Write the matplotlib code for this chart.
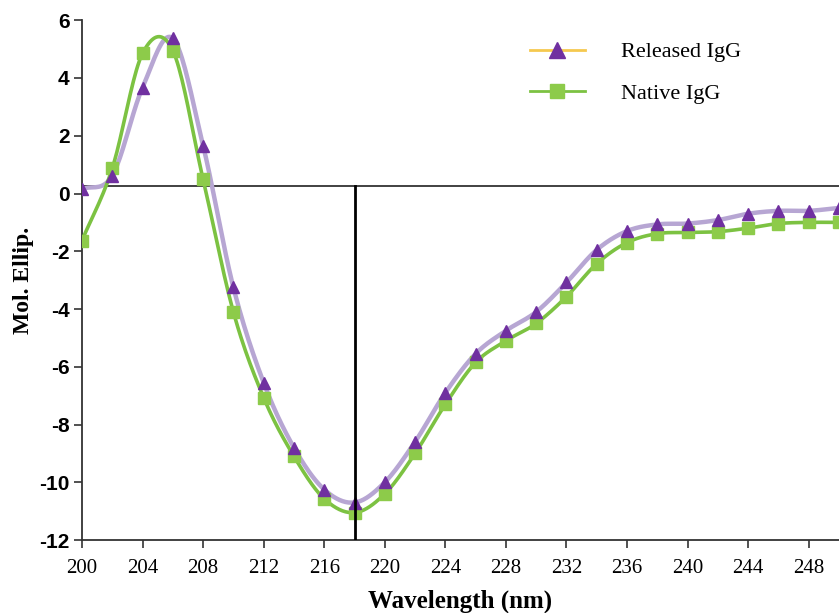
import numpy as np
import matplotlib.pyplot as plt

# CD spectra data
wavelength = [200, 202, 204, 206, 208, 210, 212, 214, 216, 218, 220, 222, 224,
              226, 228, 230, 232, 234, 236, 238, 240, 242, 244, 246, 248, 250]
released = [0.15, 0.62, 3.67, 5.37, 1.66, -3.25, -6.55, -8.8, -10.25, -10.7,
            -10.0, -8.6, -6.9, -5.55, -4.75, -4.1, -3.08, -1.95, -1.3, -1.07,
            -1.04, -0.92, -0.7, -0.6, -0.6, -0.5]
native = [-1.63, 0.87, 4.85, 4.95, 0.49, -4.1, -7.07, -9.1, -10.57, -11.05,
          -10.4, -9.0, -7.3, -5.85, -5.1, -4.5, -3.57, -2.43, -1.7, -1.39,
          -1.35, -1.32, -1.2, -1.04, -1.0, -1.0]
xticks = list(range(200, 249, 4))
yticks = list(range(-12, 7, 2))


def smooth(x, y, n=20):
    # Catmull-Rom spline like Excel's "smoothed line"
    x = np.asarray(x, float)
    y = np.asarray(y, float)
    px = np.concatenate([[2 * x[0] - x[1]], x, [2 * x[-1] - x[-2]]])
    py = np.concatenate([[2 * y[0] - y[1]], y, [2 * y[-1] - y[-2]]])
    xs, ys = [], []
    t = np.linspace(0, 1, n, endpoint=False)
    for i in range(1, len(px) - 2):
        for p, out in ((px, xs), (py, ys)):
            p0, p1, p2, p3 = p[i - 1], p[i], p[i + 1], p[i + 2]
            out.extend(0.5 * (2 * p1 + (-p0 + p2) * t
                              + (2 * p0 - 5 * p1 + 4 * p2 - p3) * t ** 2
                              + (-p0 + 3 * p1 - 3 * p2 + p3) * t ** 3))
    xs.append(x[-1])
    ys.append(y[-1])
    return np.array(xs), np.array(ys)


fig = plt.figure(figsize=(8.39, 6.13), dpi=100)
ax = fig.add_axes([0.0977, 0.119, 0.9023, 0.848])

sx, sy = smooth(wavelength, released)
ax.plot(sx, sy, color='#b7a6d3', lw=3.2, zorder=3)
ax.plot(wavelength, released, ls='none', marker='^', ms=9, color='#7030a0',
        zorder=5)
nx, ny = smooth(wavelength, native)
ax.plot(nx, ny, color='#7cc242', lw=2.6, zorder=4)
ax.plot(wavelength, native, ls='none', marker='s', ms=8.5, color='#8dcb4a',
        zorder=4)

# reference lines
ax.axhline(0.25, color='#333333', lw=1.3, zorder=2)
ax.plot([218, 218], [-12, 0.25], color='black', lw=2, zorder=6)

# legend handles
ax.plot([], [], color='#f5c94f', lw=2, marker='^', ms=11, mfc='#7030a0',
        mec='#7030a0', label='Released IgG')
ax.plot([], [], color='#7cc242', lw=2, marker='s', ms=10, mfc='#8dcb4a',
        mec='#8dcb4a', label='Native IgG')
h, l = ax.get_legend_handles_labels()
ax.legend(h[-2:], l[-2:], loc='upper left', bbox_to_anchor=(0.565, 0.997),
          frameon=False, prop={'family': 'Liberation Serif', 'size': 16},
          handlelength=2.5, labelspacing=0.95, handletextpad=1.6)

ax.set_xlim(200, 250)
ax.set_ylim(-12, 6)
ax.set_xticks(xticks)
ax.set_yticks(yticks)
ax.set_xticklabels([str(v) for v in xticks], family='Liberation Serif',
                   fontsize=15)
ax.set_yticklabels([str(v) for v in yticks], family='Liberation Sans',
                   fontweight='bold', fontsize=15)
ax.tick_params(direction='out', length=6, width=1.2, colors='#333333',
               labelcolor='black')
ax.tick_params(axis='x', pad=8)
ax.tick_params(axis='y', pad=3)
for s in ['top', 'right']:
    ax.spines[s].set_visible(False)
for s in ['left', 'bottom']:
    ax.spines[s].set_linewidth(1.3)
    ax.spines[s].set_color('#333333')

ax.set_xlabel('Wavelength (nm)', family='Liberation Serif', fontweight='bold',
              fontsize=18, labelpad=8)
ax.set_ylabel('Mol. Ellip.', family='Liberation Serif', fontweight='bold',
              fontsize=17, labelpad=4)

plt.savefig('out.png', dpi=100)
